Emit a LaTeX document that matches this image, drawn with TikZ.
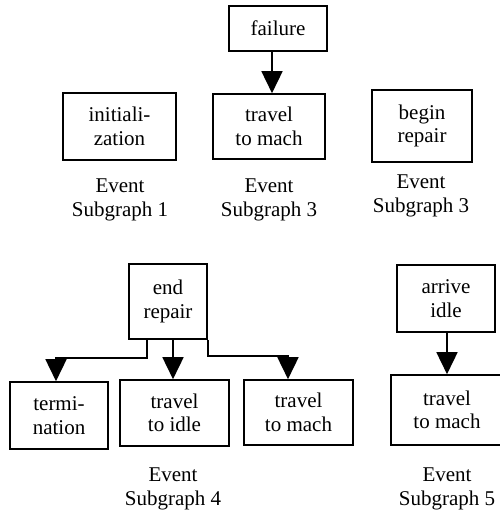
\documentclass[tikz,border=0pt]{standalone}
\usepackage{fontspec}
\setmainfont{Liberation Serif}
\usetikzlibrary{arrows.meta, positioning}

\tikzset{
  evbox/.style={draw=black, line width=1.6pt, align=center, inner sep=0pt,
    font=\fontsize{21}{23.5}\selectfont},
  evlabel/.style={align=center, font=\fontsize{21}{23.5}\selectfont},
  evarrow/.style={draw=black, line width=1.6pt, -{Triangle[width=21pt,length=22pt]}}
}

\begin{document}
\begin{tikzpicture}[x=1pt, y=-1pt]
            \useasboundingbox (0,0) rectangle (499,514);

            % top row
            \node[evbox, minimum width=98pt, minimum height=45pt] (fail) at (278,28.5) {failure};
            \node[evbox, minimum width=113pt, minimum height=67pt] (init) at (119.5,126.5) {initiali-\\zation};
            \node[evbox, minimum width=112pt, minimum height=65pt] (tvm) at (269,126.5) {travel\\to mach};
            \node[evbox, minimum width=100pt, minimum height=72pt] (brep) at (422,126) {begin\\repair};

            \node[evlabel] (lab1) at (120,200) {Event\\Subgraph 1};
            \node[evlabel] (lab3a) at (269,200) {Event\\Subgraph 3};
            \node[evlabel] (lab3b) at (421,196) {Event\\Subgraph 3};

            \draw[evarrow] ([xshift=-6pt]fail.south) -- ([xshift=-6pt]fail.south |- tvm.north);

            % bottom row
            \node[evbox, minimum width=78pt, minimum height=75pt] (endr) at (168,301.5) {end\\repair};
            \node[evbox, minimum width=98pt, minimum height=67pt] (term) at (59,415.5) {termi-\\nation};
            \node[evbox, minimum width=109pt, minimum height=66pt] (tvi) at (174.5,413) {travel\\to idle};
            \node[evbox, minimum width=109pt, minimum height=65pt] (tvmb) at (298.5,412.5) {travel\\to mach};

            \node[evbox, minimum width=98pt, minimum height=67pt] (arri) at (446,298.5) {arrive\\idle};
            \node[evbox, minimum width=112pt, minimum height=70pt] (tvmc) at (447,410) {travel\\to mach};

            \node[evlabel] (lab4) at (173,489) {Event\\Subgraph 4};
            \node[evlabel] (lab5) at (447,489) {Event\\Subgraph 5};

            \draw[evarrow] ([xshift=-21pt]endr.south) -- ++(0,18) -| ([xshift=-3pt]term.north);
            \draw[evarrow] ([xshift=-1.5pt]tvi.north |- endr.south) -- ([xshift=-1.5pt]tvi.north);
            \draw[evarrow] (endr.south east) -- ++(0,16) -| ([xshift=-10.5pt]tvmb.north);
            \draw[evarrow] ([xshift=1pt]arri.south) -- ([xshift=1pt]arri.south |- tvmc.north);
        \end{tikzpicture}
\end{document}
